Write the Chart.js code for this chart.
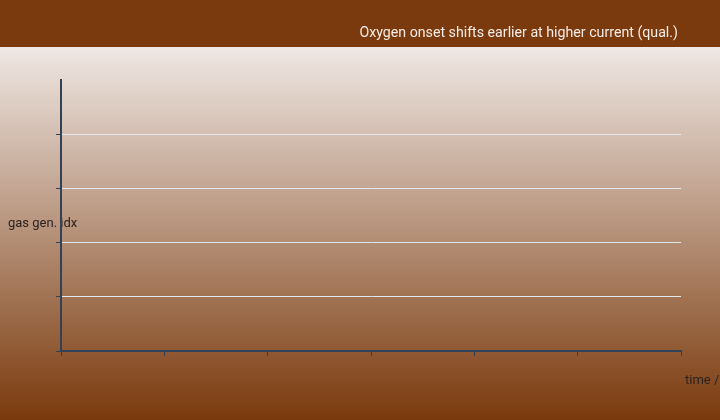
<!DOCTYPE html>
<html>
<head>
<meta charset="utf-8">
<script src="https://cdn.jsdelivr.net/npm/chart.js@4/dist/chart.umd.min.js"></script>
<style>
  html, body { margin: 0; padding: 0; background: #7b3a0e; }
  #box { width: 720px; height: 420px; position: relative; }
</style>
</head>
<body>
<div id="box"><canvas id="myChart"></canvas></div>
<script>
// Axis ranges (no curves are drawn in the reference, only the frame)
var timeSteps = [0, 1, 2, 3, 4, 5, 6];
var genLevels = [0, 1, 2, 3, 4, 5];
var lowCurrent = [];
var highCurrent = [];

var titleText = 'Oxygen onset shifts earlier at higher current (qual.)';
var yTitle = 'gas gen. idx';
var xTitle = 'time / s';

// background band + gradient, titles go under the axes
var backdrop = {
    id: 'backdrop',
    beforeDraw: function (chart) {
        var ctx = chart.ctx;
        var w = chart.width, h = chart.height;
        ctx.save();
        var g = ctx.createLinearGradient(0, 47, 0, h);
        g.addColorStop(0, '#efe8e4');
        g.addColorStop(1, '#7a390c');
        ctx.fillStyle = g;
        ctx.fillRect(0, 47, w, h - 47);
        ctx.fillStyle = '#7b3a0e';
        ctx.fillRect(0, 0, w, 47);

        ctx.textBaseline = 'middle';
        ctx.fillStyle = '#f6ece5';
        ctx.font = '14.2px Roboto';
        ctx.textAlign = 'right';
        ctx.fillText(titleText, 678, 33);

        ctx.fillStyle = '#2b2320';
        ctx.font = '13px Roboto';
        ctx.textAlign = 'left';
        ctx.fillText(yTitle, 8, 224);
        ctx.fillText(xTitle, 685, 381);
        ctx.restore();
    }
};

var ctx = document.getElementById('myChart').getContext('2d');
var myChart = new Chart(ctx, {
    type: 'line',
    data: {
        datasets: [
            { label: 'low current', data: lowCurrent, borderColor: '#1f4e79', pointRadius: 0 },
            { label: 'high current', data: highCurrent, borderColor: '#c0392b', pointRadius: 0 }
        ]
    },
    options: {
        responsive: true,
        maintainAspectRatio: false,
        animation: false,
        layout: { padding: { left: 56, right: 39, top: 80, bottom: 64 } },
        plugins: {
            legend: { display: false },
            tooltip: { enabled: false },
            title: { display: false }
        },
        scales: {
            x: {
                type: 'linear',
                min: timeSteps[0],
                max: timeSteps[timeSteps.length - 1],
                ticks: { display: false, stepSize: 1 },
                grid: { display: true, drawOnChartArea: false, drawTicks: true, tickLength: 5, tickColor: '#334155' },
                border: { display: true, color: '#334155', width: 2 }
            },
            y: {
                type: 'linear',
                min: genLevels[0],
                max: genLevels[genLevels.length - 1],
                ticks: { display: false, stepSize: 1 },
                afterBuildTicks: function (scale) {
                    scale.ticks = scale.ticks.filter(function (t) { return t.value < scale.max; });
                },
                grid: { color: '#e2e8f0', lineWidth: 1, drawTicks: true, tickLength: 5, tickColor: '#334155' },
                border: { display: true, color: '#334155', width: 2 }
            }
        }
    },
    plugins: [backdrop]
});
</script>
</body>
</html>
